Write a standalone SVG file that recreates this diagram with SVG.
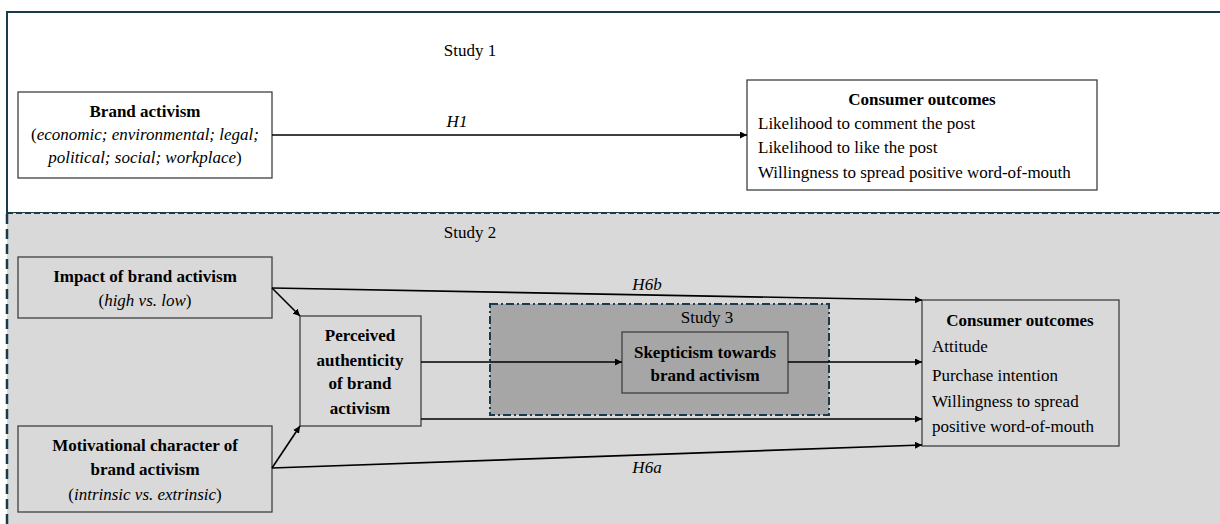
<svg xmlns="http://www.w3.org/2000/svg" width="1220" height="524" viewBox="0 0 1220 524" font-family="Liberation Serif, Times New Roman, DejaVu Serif, serif">
<defs>
<marker id="arr" viewBox="0 0 10 10" refX="10" refY="5" markerWidth="7" markerHeight="7" markerUnits="userSpaceOnUse" orient="auto">
<path d="M0,0 L10,5 L0,10 z" fill="#000"/>
</marker>
<style>
text{font-family:'Liberation Serif','Times New Roman','DejaVu Serif',serif;font-size:17px;fill:#000}
.b{font-weight:bold}
.i{font-style:italic}
.c{text-anchor:middle}
.box{stroke:#404040;stroke-width:1.3}
.wh{fill:#fff}
.gr{fill:#d9d9d9}
.dk{fill:#a6a6a6}
.conn line{stroke:#000;stroke-width:1.6;marker-end:url(#arr)}
</style>
</defs>
<rect x="0" y="0" width="1220" height="524" fill="#fff"/>
<g id="study1">
<rect x="7" y="12" width="1220" height="201" fill="#fff" stroke="#1b3a4b" stroke-width="2"/>
<text x="470" y="56" class="c">Study 1</text>
</g>
<g id="study2">
<rect x="7" y="213" width="1220" height="320" fill="#d9d9d9"/>
<line x1="7" y1="213" x2="1220" y2="213" stroke="#1b3a4b" stroke-width="2" stroke-dasharray="6,3"/>
<line x1="7" y1="214" x2="7" y2="524" stroke="#1b3a4b" stroke-width="2.5" stroke-dasharray="10,5"/>
<text x="470" y="238" class="c">Study 2</text>
</g>
<g id="study3">
<rect x="490" y="304" width="339" height="111" fill="#a6a6a6" stroke="#1b3a4b" stroke-width="2" stroke-dasharray="8,3,2,3"/>
<text x="707" y="323" class="c">Study 3</text>
</g>
<g id="brand-activism">
<rect x="18" y="92" width="254" height="86" class="box wh"/>
<text x="145" y="117" class="c b">Brand activism</text>
<text x="145" y="140" class="c">(<tspan class="i">economic; environmental; legal;</tspan></text>
<text x="145" y="163" class="c"><tspan class="i">political; social; workplace</tspan>)</text>
</g>
<g id="consumer-outcomes-1">
<rect x="747" y="80" width="350" height="110" class="box wh"/>
<text x="922" y="105" class="c b">Consumer outcomes</text>
<text x="758" y="129">Likelihood to comment the post</text>
<text x="758" y="153">Likelihood to like the post</text>
<text x="758" y="178">Willingness to spread positive word-of-mouth</text>
</g>
<g id="impact">
<rect x="18" y="257" width="254" height="61" class="box gr"/>
<text x="145" y="282" class="c b">Impact of brand activism</text>
<text x="145" y="306" class="c">(<tspan class="i">high vs. low</tspan>)</text>
</g>
<g id="perceived-authenticity">
<rect x="300" y="316" width="121" height="110" class="box gr"/>
<text x="360" y="341" class="c b">Perceived</text>
<text x="360" y="366" class="c b">authenticity</text>
<text x="360" y="389" class="c b">of brand</text>
<text x="360" y="414" class="c b">activism</text>
</g>
<g id="motivational">
<rect x="18" y="426" width="254" height="86" class="box gr"/>
<text x="145" y="451" class="c b">Motivational character of</text>
<text x="145" y="475" class="c b">brand activism</text>
<text x="145" y="500" class="c">(<tspan class="i">intrinsic vs. extrinsic</tspan>)</text>
</g>
<g id="skepticism">
<rect x="622" y="332" width="166" height="61" class="box dk"/>
<text x="705" y="358" class="c b">Skepticism towards</text>
<text x="705" y="381" class="c b">brand activism</text>
</g>
<g id="consumer-outcomes-2">
<rect x="922" y="300" width="197" height="146" class="box gr"/>
<text x="1020" y="326" class="c b">Consumer outcomes</text>
<text x="932" y="352">Attitude</text>
<text x="932" y="381">Purchase intention</text>
<text x="932" y="407">Willingness to spread</text>
<text x="932" y="432">positive word-of-mouth</text>
</g>
<g id="connectors" class="conn">
<line x1="272" y1="135" x2="747" y2="135"/>
<line x1="272" y1="288" x2="922" y2="300"/>
<line x1="272" y1="288" x2="300" y2="316"/>
<line x1="272" y1="468" x2="300" y2="426"/>
<line x1="272" y1="468" x2="922" y2="445"/>
<line x1="421" y1="362" x2="622" y2="362"/>
<line x1="788" y1="362" x2="922" y2="362"/>
<line x1="421" y1="419" x2="922" y2="419"/>
</g>
<g id="labels">
<text x="457" y="127" class="c i">H1</text>
<text x="647" y="290" class="c i">H6b</text>
<text x="647" y="473" class="c i">H6a</text>
</g>
</svg>
